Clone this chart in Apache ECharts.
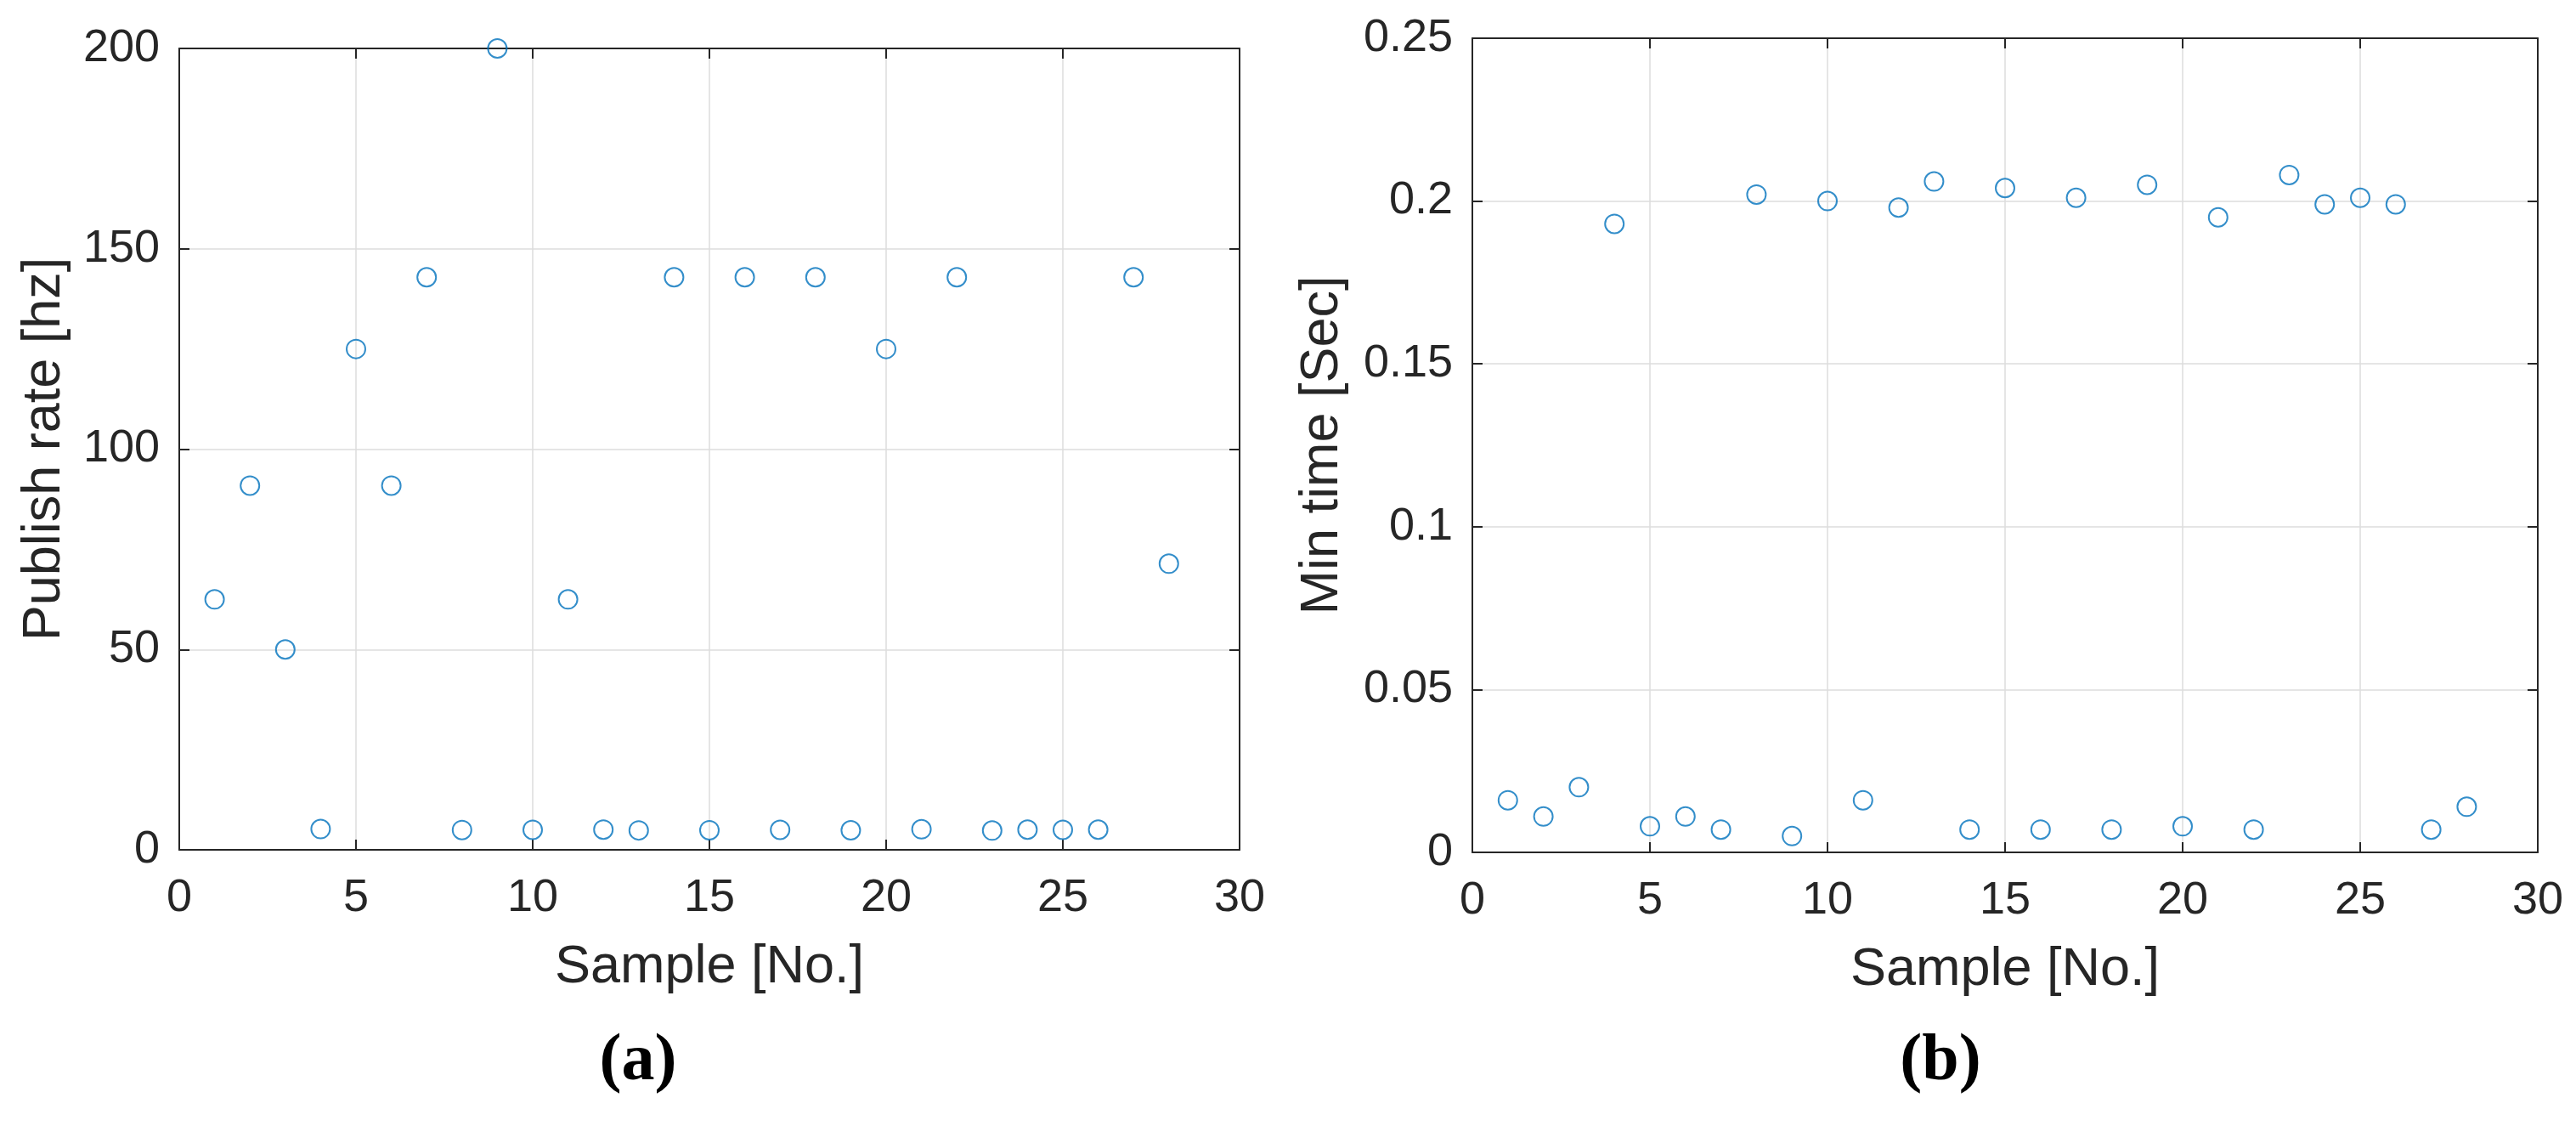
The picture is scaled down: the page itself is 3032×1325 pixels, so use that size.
<!DOCTYPE html>
<html>
<head>
<meta charset="utf-8">
<script src="https://cdn.jsdelivr.net/npm/echarts@6/dist/echarts.min.js"></script>
<style>
  html, body { margin: 0; background: #fff; }
  #chart { width: 3032px; height: 1325px; }
</style>
</head>
<body>
<div id="chart"></div>
<script>
const sampleNo = [1, 2, 3, 4, 5, 6, 7, 8, 9, 10, 11, 12, 13, 14,
                  15, 16, 17, 18, 19, 20, 21, 22, 23, 24, 25, 26, 27, 28];
const publishRate = [62.5, 90.9, 50, 5.18, 125, 90.9, 142.9, 4.95, 200, 5,
                     62.5, 5.05, 4.85, 142.9, 4.9, 142.9, 4.98, 142.9, 4.88, 125,
                     5.13, 142.9, 4.81, 5.03, 4.98, 5.03, 142.9, 71.4];
const minTime = [0.016, 0.011, 0.020, 0.193, 0.008, 0.011, 0.007, 0.202, 0.005, 0.200,
                 0.016, 0.198, 0.206, 0.007, 0.204, 0.007, 0.201, 0.007, 0.205, 0.008,
                 0.195, 0.007, 0.208, 0.199, 0.201, 0.199, 0.007, 0.014];

const xRange = { min: 0, max: 30, interval: 5 };
const rateRange = { min: 0, max: 200, interval: 50 };
const timeRange = { min: 0, max: 0.25, interval: 0.05 };

const xTitle = 'Sample [No.]';
const rateTitle = 'Publish rate [hz]';
const timeTitle = 'Min time [Sec]';
const panelLabels = ['(a)', '(b)'];

const INK = '#262626';
const BLUE = '#0072BD';
const FONT = '"Liberation Sans", Arial, Helvetica, sans-serif';

function mainAxis(type, gridIndex, range, position, name, nameGap, labelMargin) {
  return {
    type: 'value', gridIndex, position,
    min: range.min, max: range.max, interval: range.interval,
    name, nameLocation: 'middle', nameGap,
    nameTextStyle: { color: INK, fontSize: 63, fontFamily: FONT },
    axisLine: { show: true, onZero: false, lineStyle: { color: INK, width: 2 } },
    axisTick: { show: true, inside: true, length: 12, lineStyle: { color: INK, width: 2 } },
    axisLabel: { color: INK, fontSize: 54, fontFamily: FONT, margin: labelMargin },
    splitLine: { show: true, lineStyle: { color: '#dcdcdc', width: 1.5 } },
  };
}

// 右侧/顶部的镜像轴：只画框线和刻度
function mirrorAxis(gridIndex, range, position) {
  return {
    type: 'value', gridIndex, position,
    min: range.min, max: range.max, interval: range.interval,
    axisLine: { show: true, onZero: false, lineStyle: { color: INK, width: 2 } },
    axisTick: { show: true, inside: true, length: 12, lineStyle: { color: INK, width: 2 } },
    axisLabel: { show: false },
    splitLine: { show: false },
  };
}

function scatter(xi, yi, ys) {
  return {
    type: 'scatter', xAxisIndex: xi, yAxisIndex: yi, clip: false,
    symbol: 'circle', symbolSize: 22,
    itemStyle: { color: 'rgba(0,0,0,0)', borderColor: BLUE, borderWidth: 2 },
    data: sampleNo.map((x, i) => [x, ys[i]]),
  };
}

const chart = echarts.init(document.getElementById('chart'), null, { renderer: 'canvas' });
chart.setOption({
  backgroundColor: '#fff',
  animation: false,
  grid: [
    { left: 211, top: 57, right: 1573, bottom: 325 },
    { left: 1733, top: 45, right: 45, bottom: 322 },
  ],
  xAxis: [
    mainAxis('x', 0, xRange, 'bottom', xTitle, 107, 30),
    mirrorAxis(0, xRange, 'top'),
    mainAxis('x', 1, xRange, 'bottom', xTitle, 107, 30),
    mirrorAxis(1, xRange, 'top'),
  ],
  yAxis: [
    mainAxis('y', 0, rateRange, 'left', rateTitle, 127, 23),
    mirrorAxis(0, rateRange, 'right'),
    mainAxis('y', 1, timeRange, 'left', timeTitle, 145, 23),
    mirrorAxis(1, timeRange, 'right'),
  ],
  graphic: [
    { type: 'text', x: 751, y: 1250,
      style: { text: panelLabels[0], font: 'bold 78px "Liberation Serif", "Times New Roman", serif',
               fill: '#000', textAlign: 'center', textVerticalAlign: 'middle' } },
    { type: 'text', x: 2284, y: 1250,
      style: { text: panelLabels[1], font: 'bold 78px "Liberation Serif", "Times New Roman", serif',
               fill: '#000', textAlign: 'center', textVerticalAlign: 'middle' } },
  ],
  series: [
    scatter(0, 0, publishRate),
    scatter(2, 2, minTime),
  ],
});
</script>
</body>
</html>
